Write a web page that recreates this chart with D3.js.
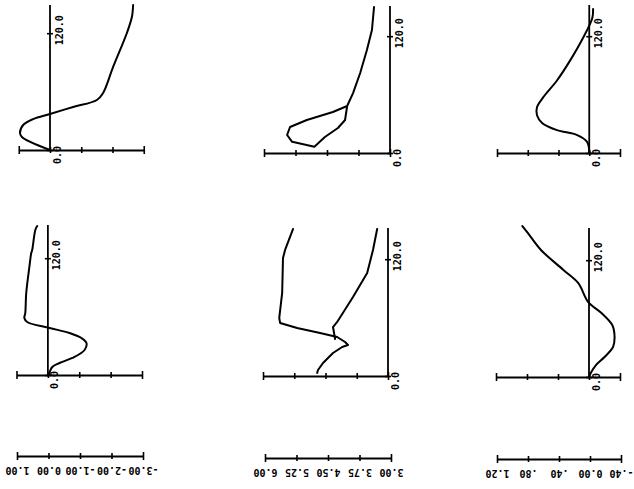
<!DOCTYPE html>
<html><head><meta charset="utf-8">
<script src="https://cdn.jsdelivr.net/npm/d3@7"></script>
<style>body{margin:0;background:#fff}svg{display:block;background:#fff}</style>
</head><body><svg id="c" width="634" height="489"></svg>
<script>
// ---------- data ----------
const yTicks = [0, 120];
const yTickLabels = ["0.0", "120.0"];

const col1Ticks = [1, 0, -1, -2, -3];
const col1Labels = ["1.00", "0.00", "-1.00", "-2.00", "-3.00"];
const col2Ticks = [6, 5.25, 4.5, 3.75, 3];
const col2Labels = ["6.00", "5.25", "4.50", "3.75", "3.00"];
const col3Ticks = [1.2, 0.8, 0.4, 0, -0.4];
const col3Labels = ["1.20", ".80", ".40", "0.00", "-.40"];
const axisValues = [0, 3, 0];   // value where the depth axis crosses, per column

const p1Depth = [0, 13.4, 17.5, 25.7, 31.8, 37, 44.2, 51.4, 58.6, 85.3, 120.2, 136.6, 149];
const p1Value = [0, 0.9, 0.96, 0.86, 0.54, 0, -0.74, -1.5, -1.7, -2.02, -2.46, -2.62, -2.66];

const p2Depth = [150, 126.4, 105.8, 82.2, 61.6, 48.3, 33.9, 25.7, 16.4, 6.4, 11.5, 18.5, 26.7, 33.9, 42.1, 48.3];
const p2Value = [3.38, 3.43, 3.55, 3.71, 3.88, 4.02, 4.07, 4.24, 4.55, 4.8, 5.33, 5.45, 5.38, 4.98, 4.36, 4.02];

const p3Depth = [0, 11.2, 18.4, 23.5, 30.6, 38.8, 46.9, 57.1, 74.5, 94.9, 118.4, 138.8, 148];
const p3Value = [0, 0.026, 0.156, 0.42, 0.61, 0.68, 0.68, 0.6, 0.42, 0.25, 0.08, -0.04, -0.05];

const p4Depth = [153, 149, 128.4, 125.3, 111, 84.2, 63.7, 58.6, 54.5, 48.3, 43.2, 38, 32.9, 25.7, 17.5, 12.3, 8.2, 0];
const p4Value = [0.34, 0.4, 0.5, 0.53, 0.59, 0.69, 0.72, 0.75, 0.66, -0.05, -0.69, -1.07, -1.23, -1.17, -0.78, -0.37, -0.14, -0.03];

const p5aDepth = [151, 129.5, 121.2, 85.3, 59.6, 54.5, 49.3, 44.2, 40.1, 34.9, 31.8, 29.8, 23.6, 13.4, 6.2, 3.1];
const p5aValue = [5.28, 5.47, 5.52, 5.54, 5.61, 5.59, 5.18, 4.63, 4.22, 4.03, 3.96, 4.1, 4.32, 4.56, 4.68, 4.7];
const p5bDepth = [38, 50.3, 55.5, 81.2, 105.8, 129.5, 151];
const p5bValue = [4.27, 4.32, 4.22, 3.84, 3.5, 3.36, 3.26];

const p6Depth = [155, 148, 130.5, 110, 96.6, 77, 65.8, 53.4, 41.1, 30.8, 20.5, 12.3, 5.1, 0];
const p6Value = [0.86, 0.79, 0.62, 0.33, 0.14, 0.01, -0.16, -0.3, -0.33, -0.31, -0.2, -0.09, -0.03, 0];

// ---------- layout ----------
const FONT = "'DejaVu Sans Mono', 'Liberation Mono', monospace";
const svg = d3.select("#c");

const panels = [
  {series: [[p1Value, p1Depth]], col: 0, ticks: col1Ticks, x0: 18.75, x1: 143.75, bottom: 150, top: 5, smooth: true},
  {series: [[p2Value, p2Depth]], col: 1, ticks: col2Ticks, x0: 264, x1: 390, bottom: 153, top: 6, smooth: false},
  {series: [[p3Value, p3Depth]], col: 2, ticks: col3Ticks, x0: 497, x1: 620, bottom: 153, top: 5, smooth: true},
  {series: [[p4Value, p4Depth]], col: 0, ticks: col1Ticks, x0: 16.5, x1: 142, bottom: 375, top: 225, smooth: true},
  {series: [[p5aValue, p5aDepth], [p5bValue, p5bDepth]], col: 1, ticks: col2Ticks, x0: 263, x1: 388, bottom: 376, top: 228, smooth: false},
  {series: [[p6Value, p6Depth]], col: 2, ticks: col3Ticks, x0: 496, x1: 620, bottom: 377, top: 228, smooth: true}
];

function styleAxis(sel) {
  sel.selectAll("path.domain").attr("stroke", "#000").attr("stroke-width", 1.8);
  sel.selectAll(".tick line").attr("stroke", "#000").attr("stroke-width", 1.6);
}

panels.forEach(p => {
  const x = d3.scaleLinear().domain([p.ticks[0], p.ticks[p.ticks.length - 1]]).range([p.x0, p.x1]);
  const y = d3.scaleLinear().domain([0, 150]).range([p.bottom, p.bottom - 146]);
  const g = svg.append("g");

  // horizontal axis
  const xa = g.append("g").attr("transform", `translate(0,${p.bottom})`)
    .call(d3.axisBottom(x).tickValues(p.ticks).tickSizeOuter(0).tickSizeInner(3).tickFormat(""));
  xa.selectAll(".tick line")
    .attr("y1", (d, i) => (i === 0 || i === p.ticks.length - 1) ? -4 : -3)
    .attr("y2", (d, i) => (i === 0 || i === p.ticks.length - 1) ? 4 : 3);
  styleAxis(xa);

  // vertical axis
  const ax = x(axisValues[p.col]);
  g.append("line").attr("x1", ax).attr("x2", ax).attr("y1", p.bottom).attr("y2", p.top)
    .attr("stroke", "#000").attr("stroke-width", 1.8);
  const ya = g.append("g").attr("transform", `translate(${ax},0)`)
    .call(d3.axisRight(y).tickValues(yTicks).tickSize(3).tickFormat(""));
  ya.select(".domain").remove();
  ya.selectAll(".tick line").attr("x1", -3);
  styleAxis(ya);

  // y labels
  g.append("text").text(yTickLabels[1])
    .attr("transform", `translate(${ax + 9},${y(120) - 3}) rotate(-90)`)
    .attr("text-anchor", "middle").attr("dominant-baseline", "central")
    .style("font-family", FONT).style("font-weight", "bold").style("font-size", "10px");
  g.append("text").text(yTickLabels[0])
    .attr("transform", `translate(${ax + 7},${p.bottom + 5}) rotate(-90)`)
    .attr("text-anchor", "middle").attr("dominant-baseline", "central")
    .style("font-family", FONT).style("font-weight", "bold").style("font-size", "10px");

  // curves
  const line = d3.line().x(d => x(d[0])).y(d => y(d[1]))
    .curve(p.smooth ? d3.curveCatmullRom.alpha(0.5) : d3.curveLinear);
  p.series.forEach(([vals, deps]) => {
    g.append("path").datum(vals.map((v, i) => [v, deps[i]]))
      .attr("d", line).attr("fill", "none").attr("stroke", "#000")
      .attr("stroke-width", 2).attr("stroke-linejoin", "round").attr("stroke-linecap", "round");
  });
});

// bottom scale bars with upside-down labels
const scales = [
  {ticks: col1Ticks, labels: col1Labels, x0: 17, x1: 143, y: 456},
  {ticks: col2Ticks, labels: col2Labels, x0: 265, x1: 391, y: 458},
  {ticks: col3Ticks, labels: col3Labels, x0: 497, x1: 621, y: 459}
];
scales.forEach(s => {
  const x = d3.scaleLinear().domain([s.ticks[0], s.ticks[s.ticks.length - 1]]).range([s.x0, s.x1]);
  const a = svg.append("g").attr("transform", `translate(0,${s.y})`)
    .call(d3.axisBottom(x).tickValues(s.ticks).tickSizeOuter(0).tickSizeInner(3)
      .tickFormat((d, i) => s.labels[i]));
  a.selectAll(".tick line")
    .attr("y1", (d, i) => (i === 0 || i === s.ticks.length - 1) ? -4 : -3)
    .attr("y2", (d, i) => (i === 0 || i === s.ticks.length - 1) ? 4 : 3);
  a.selectAll(".tick text")
    .attr("y", 0).attr("dy", null)
    .attr("transform", "translate(0,14) rotate(180)")
    .attr("text-anchor", "middle").attr("dominant-baseline", "central")
    .attr("fill", "#000")
    .style("font-family", FONT).style("font-weight", "bold").style("font-size", "10px");
  styleAxis(a);
});
</script>
</body></html>
